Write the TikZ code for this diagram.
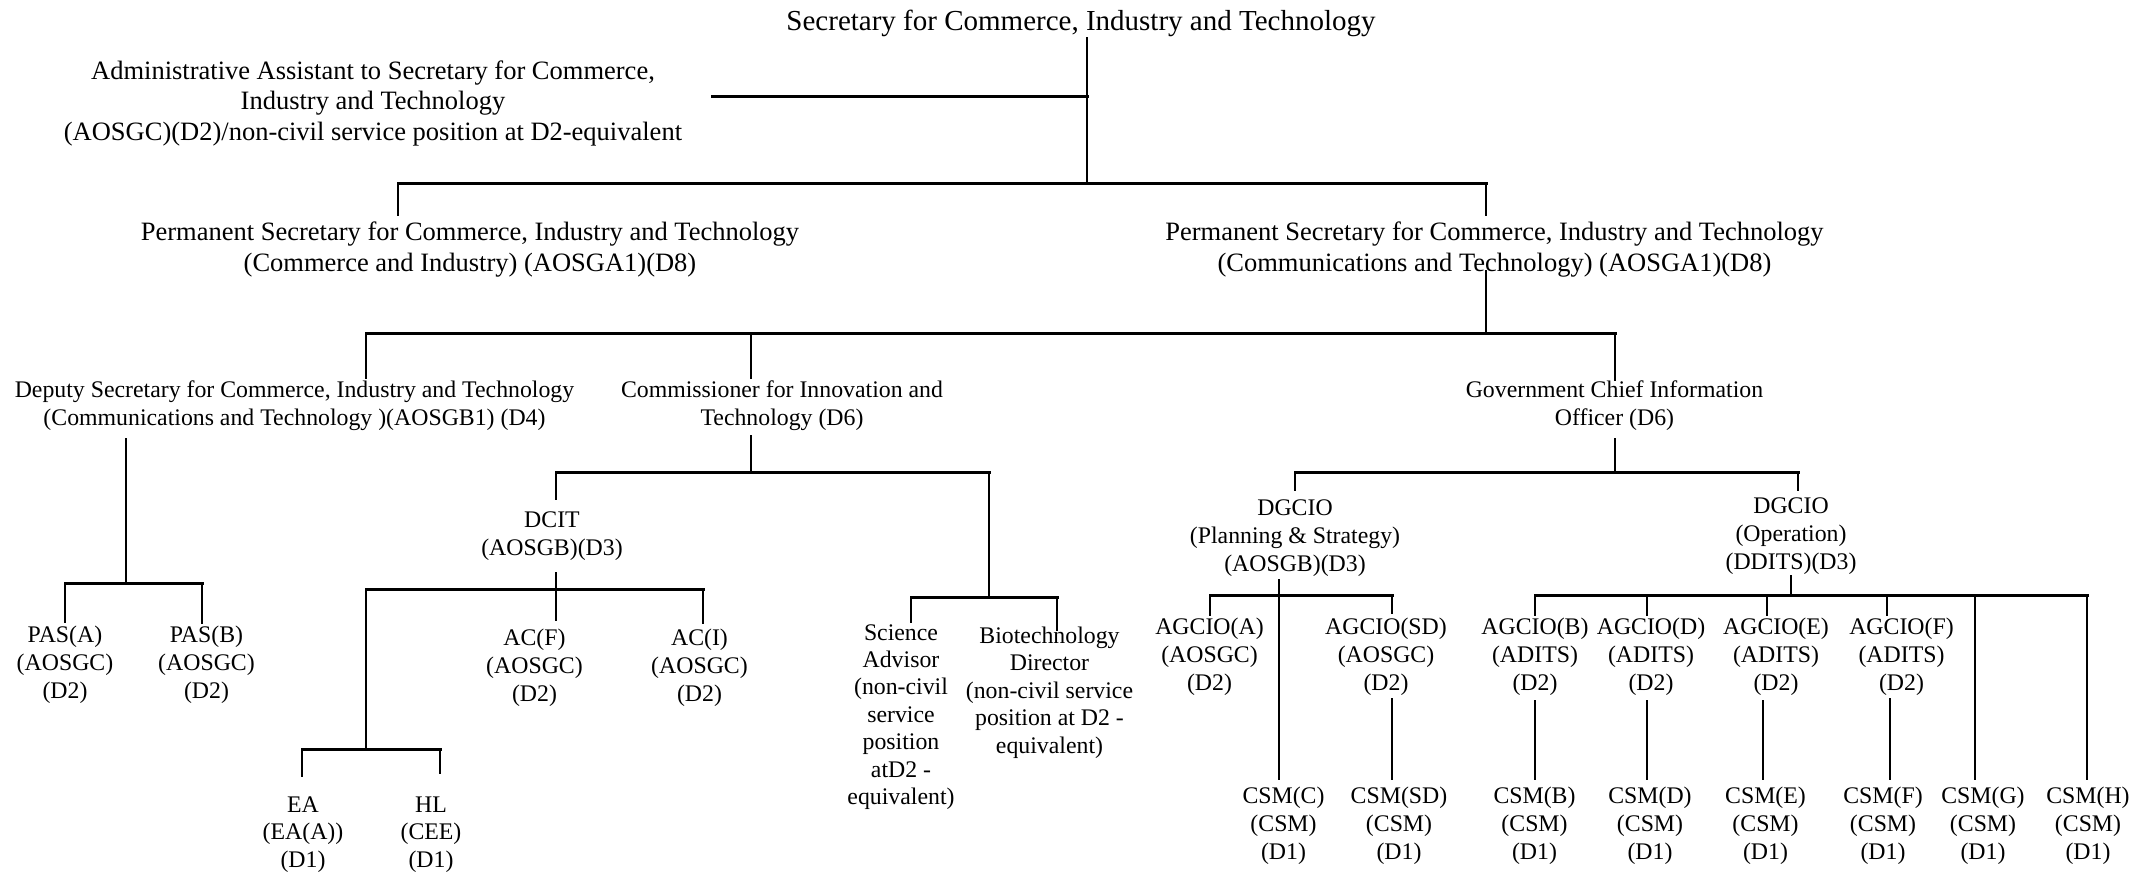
\documentclass[tikz,border=0pt]{standalone}
\usepackage{fontspec}
\setmainfont{Liberation Serif}
\begin{document}
\begin{tikzpicture}[x=1pt,y=-1pt,
  lbl/.style={align=center, inner sep=0pt, anchor=base},
  ftitle/.style={font=\fontsize{29}{33}\selectfont},
  fbig/.style={font=\fontsize{26.5}{30.5}\selectfont},
  fsm/.style={font=\fontsize{23.8}{28}\selectfont},
  fsq/.style={font=\fontsize{23.8}{27.4}\selectfont},
  vl/.style={line width=2pt},
  hl/.style={line width=3pt, line cap=rect}]
\useasboundingbox (0,0) rectangle (2150,873);
% ---------- nodes (anchor = baseline of last line) ----------
\node[lbl,ftitle] (sec) at (1081,30) {Secretary for Commerce, Industry and Technology};
\node[lbl,fbig] (aa) at (373,140) {Administrative Assistant to Secretary for Commerce,\\Industry and Technology\\(AOSGC)(D2)/non-civil service position at D2-equivalent};
\node[lbl,fbig] (psci) at (470,271) {Permanent Secretary for Commerce, Industry and Technology\\(Commerce and Industry) (AOSGA1)(D8)};
\node[lbl,fbig] (psct) at (1494.5,271) {Permanent Secretary for Commerce, Industry and Technology\\(Communications and Technology) (AOSGA1)(D8)};
\node[lbl,fsm] (ds) at (294.5,425) {Deputy Secretary for Commerce, Industry and Technology\\(Communications and Technology )(AOSGB1) (D4)};
\node[lbl,fsm] (cit) at (782,425) {Commissioner for Innovation and\\Technology (D6)};
\node[lbl,fsm] (gcio) at (1614.5,425) {Government Chief Information\\Officer (D6)};
\node[lbl,fsm] (pasa) at (65,698) {PAS(A)\\(AOSGC)\\(D2)};
\node[lbl,fsm] (pasb) at (206.5,698) {PAS(B)\\(AOSGC)\\(D2)};
\node[lbl,fsm] (dcit) at (552,555) {DCIT\\(AOSGB)(D3)};
\node[lbl,fsm] (acf) at (534.5,701) {AC(F)\\(AOSGC)\\(D2)};
\node[lbl,fsm] (aci) at (699.5,701) {AC(I)\\(AOSGC)\\(D2)};
\node[lbl,fsq] (ea) at (303,867) {EA\\(EA(A))\\(D1)};
\node[lbl,fsq] (hl) at (431,867) {HL\\(CEE)\\(D1)};
\node[lbl,fsq] (sa) at (901,804.4) {Science\\Advisor\\(non-civil\\service\\position\\atD2 -\\equivalent)};
\node[lbl,fsq] (bd) at (1049.5,753.1) {Biotechnology\\Director\\(non-civil service\\position at D2 -\\equivalent)};
\node[lbl,fsm] (dgps) at (1295,571) {DGCIO\\(Planning \& Strategy)\\(AOSGB)(D3)};
\node[lbl,fsm] (dgop) at (1791,569) {DGCIO\\(Operation)\\(DDITS)(D3)};
\node[lbl,fsm] (aga) at (1209.5,690) {AGCIO(A)\\(AOSGC)\\(D2)};
\node[lbl,fsm] (agsd) at (1386,690) {AGCIO(SD)\\(AOSGC)\\(D2)};
\node[lbl,fsm] (agb) at (1535,690) {AGCIO(B)\\(ADITS)\\(D2)};
\node[lbl,fsm] (agd) at (1651,690) {AGCIO(D)\\(ADITS)\\(D2)};
\node[lbl,fsm] (age) at (1776,690) {AGCIO(E)\\(ADITS)\\(D2)};
\node[lbl,fsm] (agf) at (1901.5,690) {AGCIO(F)\\(ADITS)\\(D2)};
\node[lbl,fsm] (csmc) at (1283.5,859.5) {CSM(C)\\(CSM)\\(D1)};
\node[lbl,fsm] (csmsd) at (1399,859.5) {CSM(SD)\\(CSM)\\(D1)};
\node[lbl,fsm] (csmb) at (1534.5,859.5) {CSM(B)\\(CSM)\\(D1)};
\node[lbl,fsm] (csmd) at (1650,859.5) {CSM(D)\\(CSM)\\(D1)};
\node[lbl,fsm] (csme) at (1765.5,859.5) {CSM(E)\\(CSM)\\(D1)};
\node[lbl,fsm] (csmf) at (1883,859.5) {CSM(F)\\(CSM)\\(D1)};
\node[lbl,fsm] (csmg) at (1983,859.5) {CSM(G)\\(CSM)\\(D1)};
\node[lbl,fsm] (csmh) at (2088,859.5) {CSM(H)\\(CSM)\\(D1)};
% ---------- junction coordinates ----------
\coordinate (t0) at (1087,37);
\coordinate (t1) at (1087,96.5);
\coordinate (t2) at (1087,183.5);
\coordinate (aaR) at (712,96.5);
\coordinate (b1L) at (398,183.5);
\coordinate (b1R) at (1486,183.5);
\coordinate (ctUp) at (1486,270);
\coordinate (b2M) at (1486,333.5);
\coordinate (b2L) at (366,333.5);
\coordinate (b2C) at (751,333.5);
\coordinate (b2R) at (1615,333.5);
\coordinate (dsD) at (126,438);
\coordinate (b3M) at (126,583.5);
\coordinate (b3L) at (65,583.5);
\coordinate (b3R) at (202,583.5);
\coordinate (citD) at (751,435);
\coordinate (b4M) at (751,472.5);
\coordinate (b4L) at (556,472.5);
\coordinate (b4R) at (989,472.5);
\coordinate (dcD) at (556,572);
\coordinate (b5M) at (556,589.5);
\coordinate (b5L) at (366,589.5);
\coordinate (b5R) at (703,589.5);
\coordinate (b6M) at (366,749.5);
\coordinate (b6L) at (302,749.5);
\coordinate (b6R) at (440,749.5);
\coordinate (b7M) at (989,597.5);
\coordinate (b7L) at (911,597.5);
\coordinate (b7R) at (1057,597.5);
\coordinate (gcD) at (1615,438);
\coordinate (b8M) at (1615,472.5);
\coordinate (b8L) at (1295,472.5);
\coordinate (b8R) at (1798,472.5);
\coordinate (psD) at (1279,579);
\coordinate (b9M) at (1279,595.5);
\coordinate (b9L) at (1210,595.5);
\coordinate (b9R) at (1392,595.5);
\coordinate (csmcTop) at (1279,780);
\coordinate (opD) at (1791,575);
\coordinate (b10M) at (1791,595.5);
\coordinate (b10L) at (1535,595.5);
\coordinate (b10R) at (2087,595.5);
% ---------- connectors ----------
\draw[vl] (t0) -- (t2);
\draw[hl] (aaR) -- (t1);
\draw[hl] (b1L) -- (b1R);
\draw[vl] (b1L) -- ++(0,32);
\draw[vl] (b1R) -- ++(0,32);
\draw[vl] (ctUp) -- (b2M);
\draw[hl] (b2L) -- (b2R);
\draw[vl] (b2L) -- ++(0,45);
\draw[vl] (b2C) -- ++(0,45);
\draw[vl] (b2R) -- ++(0,47);
% deputy
\draw[vl] (dsD) -- (b3M);
\draw[hl] (b3L) -- (b3R);
\draw[vl] (b3L) -- ++(0,39);
\draw[vl] (b3R) -- ++(0,40);
% commissioner
\draw[vl] (citD) -- (b4M);
\draw[hl] (b4L) -- (b4R);
\draw[vl] (b4L) -- ++(0,27);
\draw[vl] (b4R) -- (b7M);
% DCIT
\draw[vl] (dcD) -- (b5M);
\draw[hl] (b5L) -- (b5R);
\draw[vl] (b5L) -- (b6M);
\draw[vl] (b5M) -- ++(0,31);
\draw[vl] (b5R) -- ++(0,34);
\draw[hl] (b6L) -- (b6R);
\draw[vl] (b6L) -- ++(0,27);
\draw[vl] (b6R) -- ++(0,24);
% science / biotech
\draw[hl] (b7L) -- (b7R);
\draw[vl] (b7L) -- ++(0,25.5);
\draw[vl] (b7R) -- ++(0,33);
% GCIO
\draw[vl] (gcD) -- (b8M);
\draw[hl] (b8L) -- (b8R);
\draw[vl] (b8L) -- ++(0,18);
\draw[vl] (b8R) -- ++(0,18);
% DGCIO planning
\draw[vl] (psD) -- (b9M) -- (csmcTop);
\draw[hl] (b9L) -- (b9R);
\draw[vl] (b9L) -- ++(0,20);
\draw[vl] (b9R) -- ++(0,18);
\draw[vl] (1392,698) -- (1392,780);
% DGCIO operation
\draw[vl] (opD) -- (b10M);
\draw[hl] (b10L) -- (b10R);
\draw[vl] (b10L) -- ++(0,20);
\draw[vl] (1647,595.5) -- ++(0,20);
\draw[vl] (1767,595.5) -- ++(0,20);
\draw[vl] (1887,595.5) -- ++(0,20);
\draw[vl] (1975,595.5) -- (1975,780);
\draw[vl] (b10R) -- (2087,780);
\draw[vl] (1535,700) -- (1535,780);
\draw[vl] (1647,700) -- (1647,780);
\draw[vl] (1763,700) -- (1763,780);
\draw[vl] (1890,698) -- (1890,780);
\end{tikzpicture}
\end{document}
